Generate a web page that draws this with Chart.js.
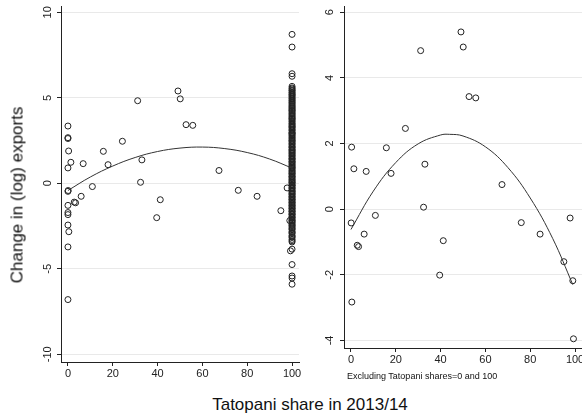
<!DOCTYPE html>
<html>
<head>
<meta charset="utf-8">
<script src="https://cdn.jsdelivr.net/npm/chart.js@4"></script>
<style>
  html, body { margin:0; padding:0; background:#fff; overflow:hidden; }
  body { width:582px; height:414px; position:relative; font-family:"Liberation Sans", Arial, sans-serif; color:#111; }
  canvas { position:absolute; top:0; }
  #leftChart { left:0; }
  #rightChart { left:300px; }
  .lbl { position:absolute; white-space:nowrap; line-height:1; font-weight:normal; }
  #ytitle { font-size:17px; left:17px; top:195px; transform:translate(-50%,-50%) rotate(-90deg); }
  #xtitle { font-size:17px; left:310px; top:404px; transform:translate(-50%,-50%); }
  #note { font-size:9px; left:347px; top:376px; transform:translateY(-50%); }
</style>
</head>
<body>
<canvas id="leftChart" width="310" height="390"></canvas>
<canvas id="rightChart" width="300" height="390"></canvas>
<div class="lbl" id="ytitle">Change in (log) exports</div>
<div class="lbl" id="xtitle">Tatopani share in 2013/14</div>
<div class="lbl" id="note">Excluding Tatopani shares=0 and 100</div>
<script>
// ---- data ----
// shares strictly between 0 and 100 (shown in both panels)
const midShare = [0.3, 1.3, 6.8, 15.8, 17.9, 24.3, 31.1, 33.0, 49.1, 50.1, 52.7, 55.7, 67.4,
                  0.1, 10.9, 5.9, 2.8, 3.4, 32.4, 41.2, 39.6, 0.4, 76.0, 84.4, 97.8, 95.0, 99.0, 99.3];
const midChange = [1.89, 1.23, 1.15, 1.87, 1.09, 2.46, 4.83, 1.37, 5.40, 4.94, 3.43, 3.39, 0.75,
                   -0.42, -0.19, -0.76, -1.10, -1.14, 0.06, -0.96, -2.01, -2.83, -0.41, -0.76, -0.27, -1.60, -2.18, -3.95];
// share = 0
const zeroChange = [3.35, 2.67, 2.62, 0.90, -0.47, -1.29, -1.71, -1.83, -2.44, -3.72, -6.80];
// share = 100 (dense column)
const fullChange = [8.71, 7.97, 6.41, 6.26, 5.67, 5.58, 5.52, 5.45, 5.41, 5.33, 5.28, 5.21, 5.17, 5.11,
  5.05, 4.98, 4.93, 4.86, 4.81, 4.74, 4.69, 4.62, 4.55, 4.49, 4.43, 4.37, 4.31, 4.26, 4.22, 4.14, 4.08,
  4.02, 3.95, 3.89, 3.83, 3.78, 3.74, 3.66, 3.60, 3.52, 3.47, 3.41, 3.35, 3.30, 3.26, 3.18, 3.12, 3.07,
  2.98, 2.94, 2.91, 2.85, 2.79, 2.72, 2.66, 2.60, 2.53, 2.49, 2.44, 2.36, 2.31, 2.25, 2.17, 2.12, 2.08,
  1.99, 1.95, 1.90, 1.84, 1.78, 1.73, 1.66, 1.61, 1.55, 1.47, 1.43, 1.39, 1.30, 1.26, 1.21, 1.14, 1.08,
  1.02, 0.96, 0.91, 0.87, 0.79, 0.73, 0.68, 0.61, 0.57, 0.52, 0.43, 0.39, 0.35, 0.27, 0.21, 0.16, 0.09,
  0.05, 0.01, -0.08, -0.12, -0.15, -0.24, -0.28, -0.33, -0.41, -0.46, -0.50, -0.57, -0.62, -0.66, -0.74,
  -0.79, -0.83, -0.91, -0.95, -0.99, -1.08, -1.12, -1.17, -1.25, -1.30, -1.34, -1.42, -1.47, -1.51,
  -1.60, -1.64, -1.68, -1.77, -1.81, -1.85, -1.94, -1.99, -2.03, -2.12, -2.17, -2.21, -2.27, -2.33,
  -2.41, -2.46, -2.52, -2.60, -2.66, -2.71, -2.82, -2.88, -2.93, -3.05, -3.11, -3.17, -3.28, -3.36,
  -3.43, -3.85, -4.75, -5.42, -5.54, -5.90];

// quadratic fit lines, read at a few shares
const leftFitX = [0, 10, 20, 30, 40, 50, 60, 70, 80, 90, 100];
const leftFitY = [-0.42, 0.37, 1.01, 1.51, 1.86, 2.06, 2.12, 2.03, 1.80, 1.42, 0.89];
const rightFitX = [0, 10, 20, 30, 40, 44, 50, 60, 70, 80, 90, 99];
const rightFitY = [-0.62, 0.55, 1.42, 1.99, 2.26, 2.28, 2.23, 1.90, 1.27, 0.34, -0.89, -2.30];

// tick labels
const xTicks = [0, 20, 40, 60, 80, 100];
const leftYTicks = [-10, -5, 0, 5, 10];
const rightYTicks = [-4, -2, 0, 2, 4, 6];

// ---- helpers ----
const INK = '#222';
const FONT = { family: '"Liberation Sans", Arial, sans-serif', size: 11 };
const pts = (xs, ys) => ys.map((y, i) => ({ x: xs[i], y }));
const fixTicks = vals => scale => { scale.ticks = vals.map(v => ({ value: v })); };

function dotSet(data) {
  return { type:'scatter', data, pointStyle:'circle', pointRadius:3, pointBorderWidth:1,
           borderColor:INK, backgroundColor:'rgba(0,0,0,0)', pointHoverRadius:3, order:2 };
}
function fitSet(xs, ys) {
  return { type:'line', data: pts(xs, ys), showLine:true, borderColor:'#333', borderWidth:1,
           pointRadius:0, tension:0.4, fill:false, order:1 };
}
function axes(yTicks, yMin, yMax, yWidth, yPad, xHeight) {
  return {
    x: {
      type:'linear', min:-3.1, max:103.1,
      afterBuildTicks: fixTicks(xTicks),
      afterFit: s => { s.height = xHeight; s.paddingLeft = 0; s.paddingRight = 0; },
      grid: { display:true, drawOnChartArea:false, drawTicks:true, tickLength:4, tickColor:INK },
      border: { display:true, color:INK, width:1 },
      ticks: { color:INK, font:FONT, padding:1, maxRotation:0, autoSkip:false }
    },
    y: {
      type:'linear', min:yMin, max:yMax,
      afterBuildTicks: fixTicks(yTicks),
      afterFit: s => { s.width = yWidth; s.paddingTop = 0; s.paddingBottom = 0; },
      grid: { display:true, color:'#e9e9e9', drawTicks:true, tickLength:4, tickColor:INK },
      border: { display:true, color:INK, width:1 },
      ticks: { color:INK, font:FONT, padding:yPad, minRotation:90, maxRotation:90, crossAlign:'center', autoSkip:false }
    }
  };
}
const common = {
  responsive:false, animation:false, devicePixelRatio:1,
  plugins: { legend:{ display:false }, tooltip:{ enabled:false } }
};

// ---- left: all shares ----
const leftDots = [
  ...zeroChange.map(y => ({ x:0, y })),
  ...pts(midShare, midChange),
  ...fullChange.map(y => ({ x:100, y }))
];
new Chart(document.getElementById('leftChart'), {
  data: { datasets: [ dotSet(leftDots), fitSet(leftFitX, leftFitY) ] },
  options: { ...common,
    layout: { padding: { top:6, right:11, bottom:0, left:0 } },
    scales: axes(leftYTicks, -10.45, 10.37, 61, 1.5, 28)
  }
});

// ---- right: excluding 0 and 100 ----
new Chart(document.getElementById('rightChart'), {
  data: { datasets: [ dotSet(pts(midShare, midChange)), fitSet(rightFitX, rightFitY) ] },
  options: { ...common,
    layout: { padding: { top:6, right:18, bottom:0, left:0 } },
    scales: axes(rightYTicks, -4.23, 6.19, 44, 5, 42)
  }
});
</script>
</body>
</html>
